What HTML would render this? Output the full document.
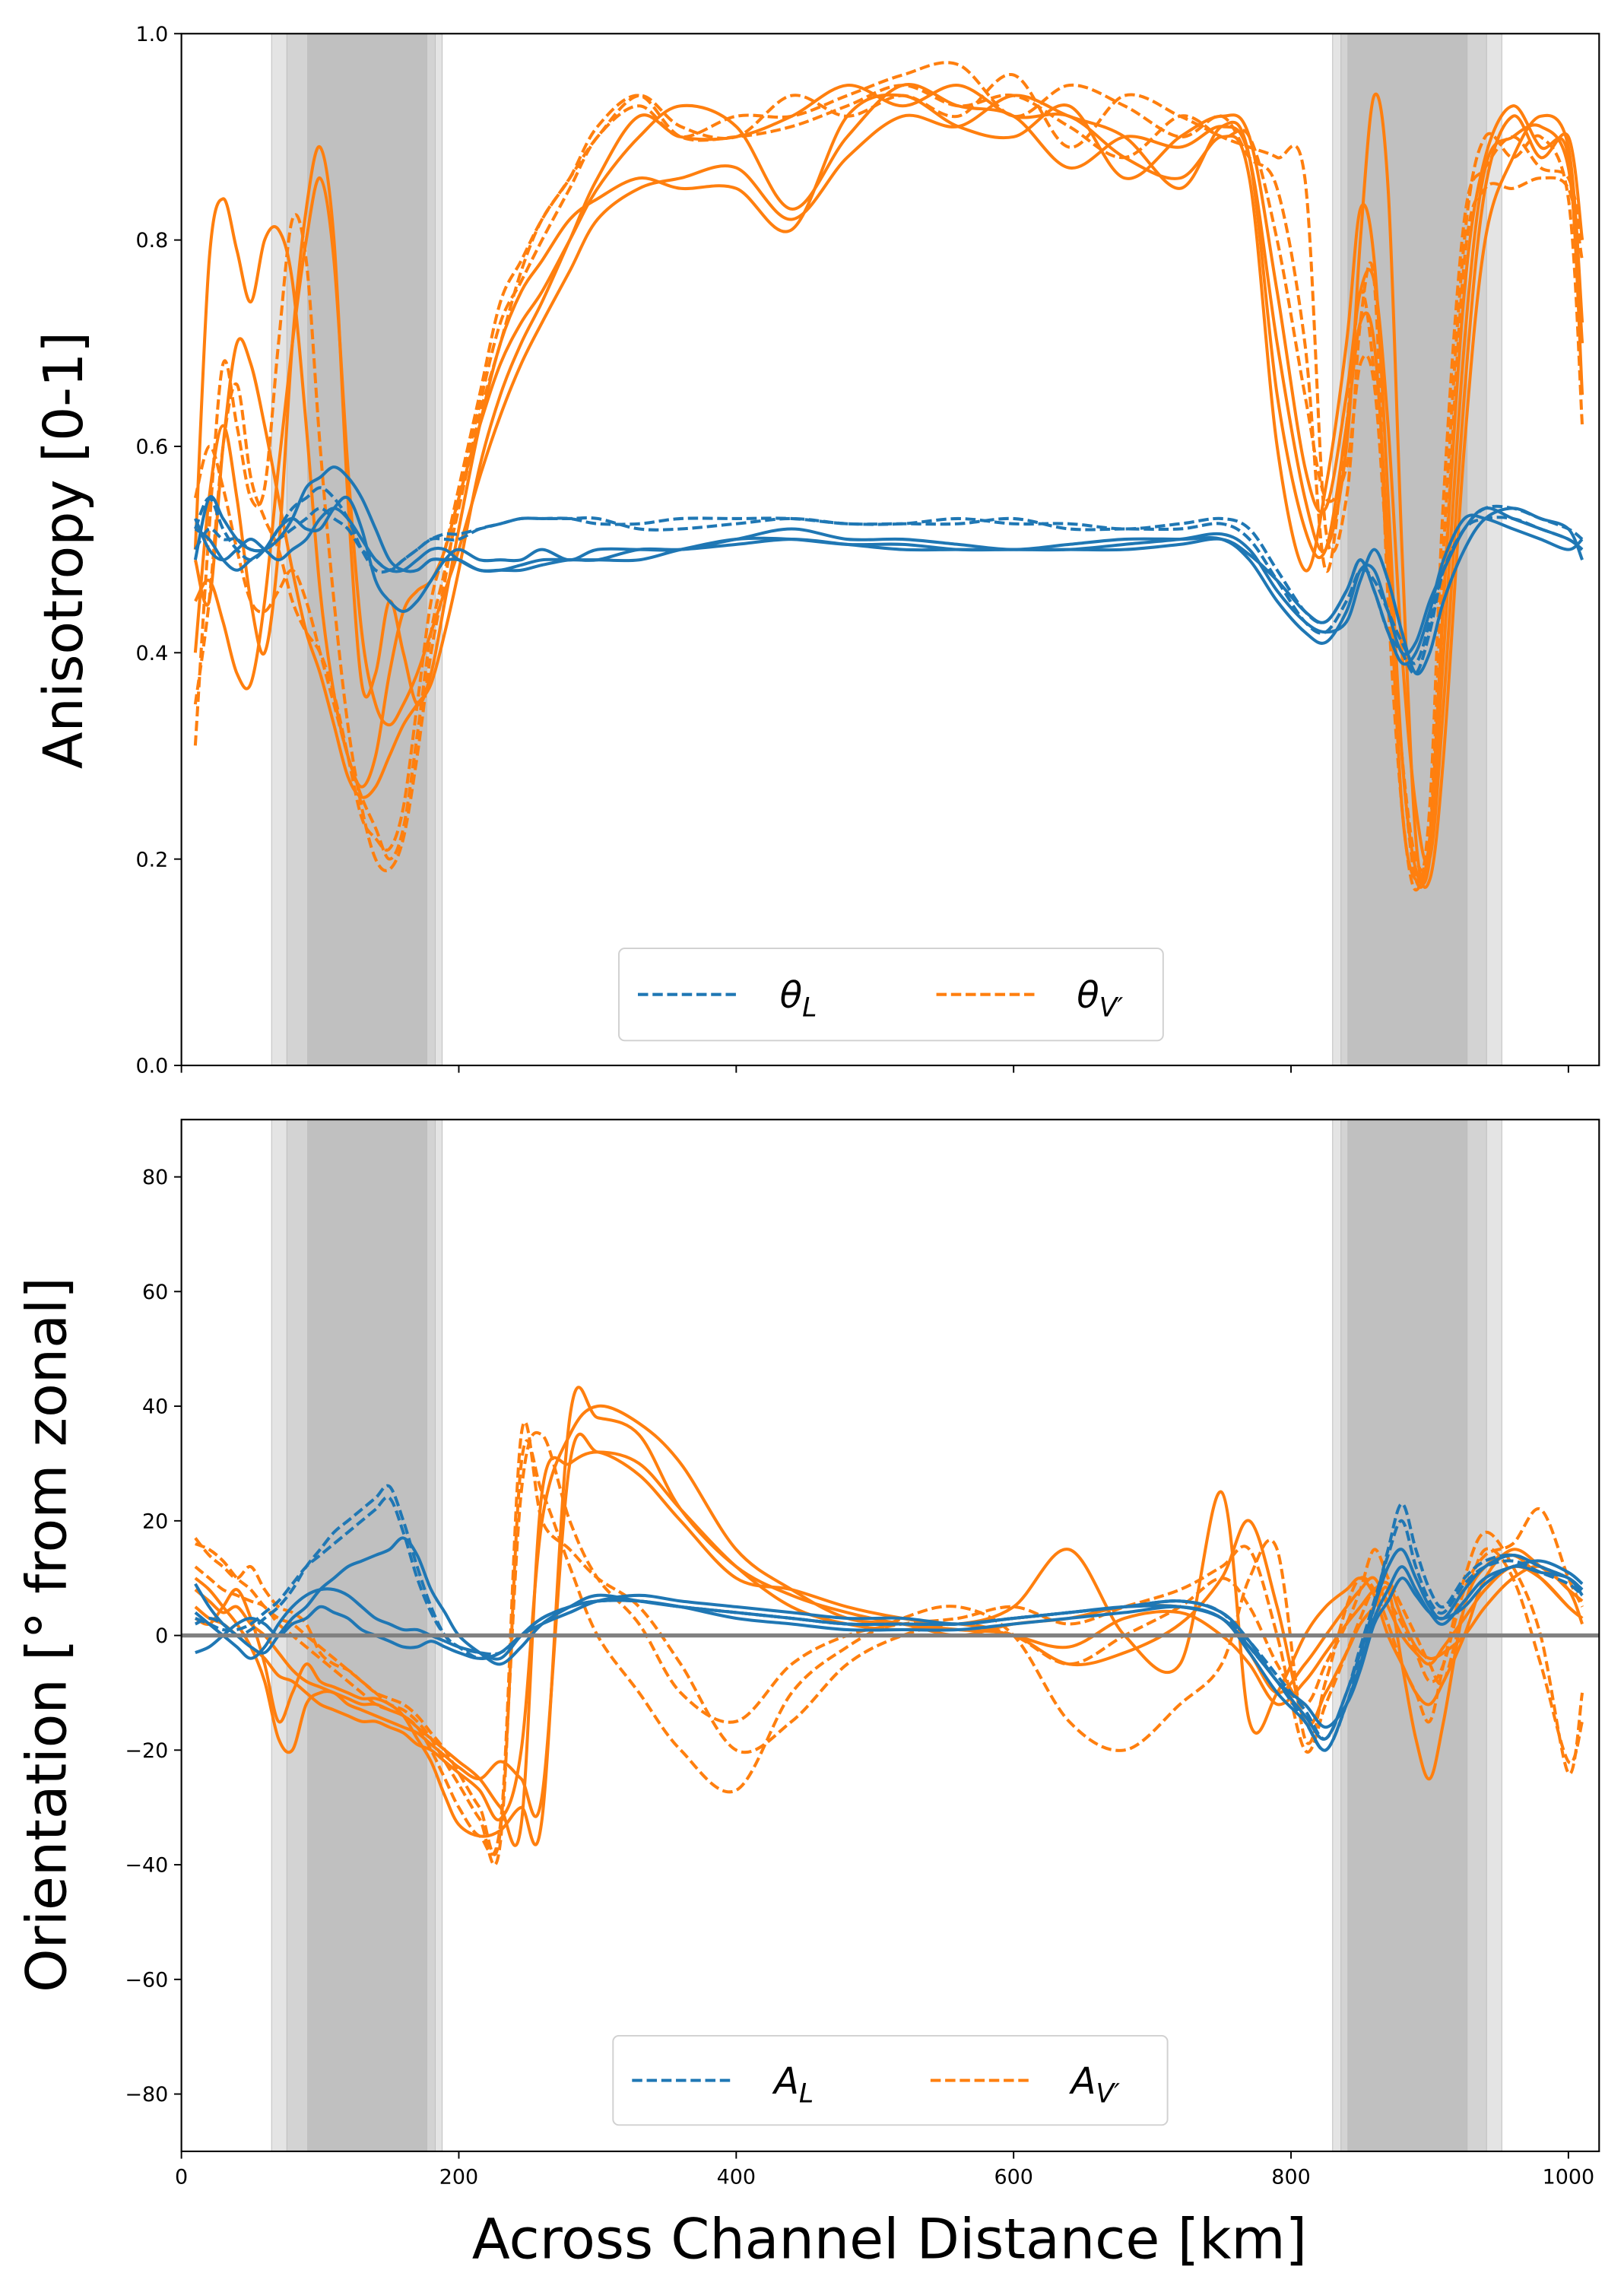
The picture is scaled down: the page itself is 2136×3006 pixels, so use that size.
<!DOCTYPE html>
<html><head><meta charset="utf-8"><style>html,body{margin:0;padding:0;background:#fff}svg{display:block}text{font-family:"DejaVu Sans","Liberation Sans",sans-serif}</style></head>
<body>
<svg id="chart" xmlns="http://www.w3.org/2000/svg" width="2136" height="3006" viewBox="0 0 1110 1562" preserveAspectRatio="none">
<defs>
<clipPath id="c1"><rect x="124" y="23" width="969" height="705"/></clipPath>
<clipPath id="c2"><rect x="124" y="765" width="969" height="705"/></clipPath>
</defs>
<g id="bands"></g>
<g id="lines1" clip-path="url(#c1)"></g>
<g id="lines2" clip-path="url(#c2)"></g>
<g id="axes"></g>
</svg>
<script>
const xs=[10,20,30,40,50,60,70,80,90,100,110,120,130,140,150,160,170,180,190,200,215,230,245,260,280,300,330,360,400,440,480,520,560,600,640,680,720,750,770,790,810,825,840,850,860,870,880,890,900,910,925,940,960,980,1000,1010];
// top panel: anisotropy
const thetaVSolid1=[0.50,0.78,0.84,0.79,0.74,0.80,0.81,0.76,0.62,0.46,0.36,0.30,0.27,0.30,0.38,0.44,0.46,0.47,0.50,0.55,0.62,0.68,0.72,0.75,0.80,0.85,0.90,0.93,0.91,0.83,0.90,0.95,0.93,0.92,0.87,0.90,0.89,0.91,0.88,0.70,0.55,0.50,0.60,0.80,0.94,0.85,0.50,0.22,0.18,0.30,0.60,0.80,0.88,0.92,0.89,0.72];
const thetaVSolid2=[0.40,0.55,0.62,0.55,0.45,0.40,0.50,0.70,0.83,0.89,0.80,0.55,0.37,0.38,0.45,0.40,0.35,0.38,0.45,0.52,0.62,0.70,0.75,0.78,0.82,0.84,0.86,0.85,0.85,0.81,0.92,0.94,0.91,0.90,0.93,0.86,0.90,0.92,0.90,0.75,0.58,0.54,0.65,0.75,0.76,0.62,0.40,0.25,0.20,0.35,0.65,0.85,0.92,0.88,0.90,0.80];
const thetaVSolid3=[0.49,0.45,0.60,0.70,0.68,0.62,0.55,0.48,0.42,0.38,0.33,0.28,0.26,0.27,0.30,0.33,0.35,0.37,0.42,0.48,0.58,0.65,0.70,0.74,0.80,0.86,0.92,0.90,0.90,0.92,0.95,0.93,0.95,0.92,0.92,0.88,0.86,0.90,0.86,0.60,0.48,0.56,0.70,0.83,0.78,0.55,0.30,0.19,0.20,0.40,0.70,0.87,0.90,0.91,0.87,0.70];
const thetaVSolid4=[0.45,0.47,0.43,0.38,0.37,0.45,0.58,0.70,0.80,0.86,0.78,0.58,0.42,0.35,0.33,0.35,0.38,0.42,0.46,0.50,0.57,0.63,0.68,0.72,0.77,0.82,0.85,0.86,0.87,0.82,0.88,0.92,0.91,0.94,0.92,0.90,0.85,0.91,0.88,0.65,0.52,0.50,0.62,0.72,0.70,0.50,0.25,0.18,0.22,0.45,0.75,0.88,0.93,0.89,0.88,0.65];
const thetaVDash1=[0.31,0.52,0.68,0.62,0.55,0.56,0.70,0.82,0.78,0.60,0.45,0.33,0.25,0.20,0.19,0.22,0.30,0.40,0.47,0.55,0.64,0.72,0.76,0.80,0.85,0.90,0.93,0.90,0.92,0.92,0.94,0.96,0.97,0.92,0.95,0.93,0.90,0.92,0.88,0.85,0.70,0.48,0.62,0.75,0.67,0.50,0.30,0.18,0.22,0.50,0.80,0.90,0.88,0.90,0.84,0.62];
const thetaVDash2=[0.35,0.45,0.60,0.66,0.57,0.53,0.50,0.45,0.42,0.40,0.36,0.30,0.24,0.22,0.21,0.25,0.35,0.45,0.50,0.56,0.65,0.74,0.78,0.82,0.86,0.90,0.94,0.91,0.90,0.94,0.92,0.94,0.92,0.96,0.89,0.94,0.92,0.90,0.89,0.88,0.86,0.52,0.55,0.72,0.76,0.45,0.25,0.17,0.25,0.55,0.82,0.87,0.90,0.87,0.86,0.80];
const thetaVDash3=[0.55,0.60,0.56,0.50,0.45,0.44,0.46,0.48,0.45,0.40,0.35,0.30,0.26,0.23,0.20,0.23,0.32,0.42,0.48,0.54,0.63,0.70,0.77,0.82,0.86,0.91,0.94,0.90,0.90,0.91,0.93,0.95,0.93,0.94,0.91,0.88,0.92,0.90,0.90,0.80,0.65,0.55,0.58,0.68,0.66,0.48,0.30,0.20,0.22,0.45,0.78,0.85,0.85,0.86,0.85,0.78];
const thetaLSolid1=[0.49,0.55,0.53,0.51,0.50,0.50,0.51,0.53,0.56,0.57,0.58,0.57,0.55,0.52,0.49,0.48,0.48,0.49,0.49,0.49,0.48,0.48,0.485,0.49,0.49,0.49,0.49,0.50,0.51,0.51,0.505,0.505,0.50,0.50,0.50,0.505,0.51,0.515,0.50,0.46,0.43,0.42,0.43,0.47,0.50,0.47,0.42,0.38,0.40,0.45,0.50,0.53,0.54,0.53,0.52,0.49];
const thetaLSolid2=[0.52,0.51,0.49,0.48,0.49,0.50,0.52,0.53,0.52,0.52,0.54,0.55,0.52,0.47,0.45,0.44,0.45,0.47,0.49,0.50,0.49,0.49,0.49,0.50,0.49,0.50,0.50,0.50,0.51,0.52,0.51,0.51,0.505,0.50,0.505,0.51,0.51,0.51,0.49,0.45,0.42,0.41,0.44,0.48,0.48,0.44,0.40,0.41,0.45,0.48,0.52,0.54,0.53,0.52,0.51,0.50];
const thetaLSolid3=[0.53,0.50,0.49,0.50,0.51,0.50,0.49,0.50,0.51,0.53,0.54,0.53,0.51,0.49,0.48,0.48,0.49,0.50,0.50,0.49,0.48,0.48,0.48,0.485,0.49,0.49,0.50,0.50,0.505,0.51,0.505,0.50,0.50,0.50,0.50,0.50,0.505,0.51,0.495,0.47,0.44,0.43,0.46,0.49,0.46,0.42,0.39,0.40,0.44,0.49,0.53,0.53,0.52,0.51,0.50,0.51];
const thetaLDash1=[0.52,0.55,0.52,0.50,0.49,0.50,0.52,0.54,0.55,0.56,0.55,0.53,0.50,0.48,0.48,0.49,0.50,0.51,0.51,0.51,0.52,0.525,0.53,0.53,0.53,0.525,0.525,0.53,0.53,0.53,0.525,0.525,0.53,0.525,0.525,0.52,0.525,0.53,0.52,0.48,0.44,0.43,0.46,0.49,0.46,0.42,0.40,0.38,0.42,0.48,0.52,0.54,0.54,0.53,0.52,0.51];
const thetaLDash2=[0.50,0.52,0.51,0.51,0.50,0.50,0.51,0.52,0.53,0.54,0.53,0.52,0.50,0.49,0.48,0.49,0.50,0.51,0.515,0.515,0.52,0.525,0.53,0.53,0.53,0.53,0.52,0.52,0.525,0.53,0.525,0.525,0.525,0.53,0.52,0.52,0.52,0.525,0.51,0.47,0.43,0.42,0.45,0.48,0.47,0.44,0.41,0.39,0.43,0.48,0.52,0.53,0.53,0.52,0.51,0.50];
// bottom panel: orientation (deg)
const aVSolid1=[5,3,2,0,-2,-4,-7,-8,-10,-12,-13,-14,-15,-15,-16,-17,-19,-20,-22,-24,-27,-32,-20,20,35,40,37,30,15,8,3,2,0,2,3,5,5,3,-3,-10,-5,0,5,8,10,5,0,-3,-5,-2,3,8,12,10,5,3];
const aVSolid2=[8,6,4,5,2,0,-3,-6,-8,-9,-10,-11,-12,-12,-13,-14,-16,-18,-20,-22,-25,-30,-33,25,30,32,30,22,12,5,2,1,2,0,-2,3,4,0,-5,-12,-8,-3,2,5,8,9,3,-2,-4,-3,0,5,10,12,8,6];
const aVSolid3=[3,2,5,8,3,-5,-15,-10,-5,-8,-9,-10,-11,-11,-12,-14,-18,-22,-28,-33,-35,-34,-30,-32,38,38,35,22,12,7,4,2,1,0,-5,-3,2,10,20,5,-15,-10,-3,2,5,8,-5,-18,-25,-15,5,12,14,10,5,3];
const aVSolid4=[10,8,5,2,-2,-8,-18,-20,-12,-10,-10,-12,-13,-14,-15,-16,-17,-19,-21,-23,-25,-22,-25,-28,30,32,28,20,10,8,5,3,2,5,15,0,-5,25,-15,-10,0,5,8,10,7,0,-5,-10,-12,-8,0,10,15,12,8,2];
const aVDash1=[17,14,12,10,12,8,5,4,2,-3,-5,-6,-8,-10,-11,-12,-14,-17,-20,-24,-30,-34,35,20,15,10,5,-5,-20,-15,-5,0,2,0,-5,0,5,10,5,-5,-12,-5,2,8,15,10,5,0,-5,-8,5,15,10,-5,-22,-15];
const aVDash2=[16,15,13,10,8,5,3,2,0,-2,-4,-6,-8,-10,-12,-13,-15,-18,-22,-26,-32,-36,30,25,12,0,-10,-20,-27,-10,-2,3,5,0,-15,-20,-12,-5,10,15,-18,-8,5,10,8,2,-5,-10,-15,-5,10,18,12,0,-24,-10];
const aVDash3=[12,10,8,7,6,5,2,0,-2,-4,-6,-8,-10,-12,-13,-14,-16,-20,-25,-30,-35,-33,25,35,20,10,2,-10,-15,-5,0,2,3,5,2,5,8,12,15,0,-20,-12,-3,3,8,6,2,-3,-8,-5,8,14,16,22,10,5];
const aLSolid1=[9,5,2,0,-2,-3,0,3,5,8,10,12,13,14,15,17,14,8,4,0,-3,-5,-2,2,5,7,6,5,4,3,2,2,2,3,4,5,5,3,-2,-8,-14,-18,-10,-3,5,12,15,10,5,3,8,12,14,12,10,8];
const aLSolid2=[4,2,0,-2,-4,-2,2,5,7,8,8,7,5,3,2,1,1,0,-1,-2,-3,-4,0,3,5,6,6,5,3,2,1,1,1,2,3,4,5,3,-3,-10,-15,-20,-12,-5,3,8,12,8,4,2,6,10,12,13,11,9];
const aLSolid3=[-3,-2,0,2,3,2,0,2,3,5,4,3,1,0,-1,-2,-2,-1,-2,-3,-4,-3,0,2,4,6,7,6,5,4,3,3,2,3,4,5,6,4,-1,-8,-12,-16,-12,-6,2,6,10,7,4,3,5,9,12,11,10,7];
const aLDash1=[2,3,2,0,1,3,5,8,12,15,18,20,22,24,26,20,12,5,0,-2,-4,-3,0,3,5,6,6,5,4,3,2,2,2,3,4,5,6,4,-2,-8,-15,-20,-12,-4,5,15,23,15,8,5,10,13,14,12,10,8];
const aLDash2=[3,2,1,1,2,4,6,9,12,14,16,18,20,22,24,18,10,4,0,-2,-3,-3,0,3,5,6,6,5,4,3,2,2,2,3,4,5,6,4,-1,-7,-13,-18,-10,-2,6,14,20,12,6,4,9,12,13,11,9,7];
const yTicks1=[0,0.2,0.4,0.6,0.8,1.0];
const yTicks2=[-80,-60,-40,-20,0,20,40,60,80];
const xTicks=[0,200,400,600,800,1000];
const bandsKm=[[65,188,'#e4e4e4'],[76,183,'#d3d3d3'],[91,177,'#c0c0c0'],[830,952,'#e4e4e4'],[836,941,'#d3d3d3'],[841,927,'#c0c0c0']];

const NS='http://www.w3.org/2000/svg';
const L=124,R=1093,T1=23,B1=728,T2=765,B2=1470;
const X=v=>L+v*0.948;
const Y1=v=>B1-v*705;
const Y2=v=>(T2+B2)/2-v*(705/180);
function mk(tag,attrs,parent){const e=document.createElementNS(NS,tag);for(const k in attrs)e.setAttribute(k,attrs[k]);parent.appendChild(e);return e;}
function pathD(vals,Y){const p=xs.map((x,i)=>[X(x),Y(vals[i])]);let d='M'+p[0][0].toFixed(2)+','+p[0][1].toFixed(2);
 for(let i=0;i<p.length-1;i++){const p0=p[i-1]||p[i],p1=p[i],p2=p[i+1],p3=p[i+2]||p2;
 const c1=[p1[0]+(p2[0]-p0[0])/6,p1[1]+(p2[1]-p0[1])/6],c2=[p2[0]-(p3[0]-p1[0])/6,p2[1]-(p3[1]-p1[1])/6];
 d+='C'+c1.map(n=>n.toFixed(2)).join(',')+' '+c2.map(n=>n.toFixed(2)).join(',')+' '+p2[0].toFixed(2)+','+p2[1].toFixed(2);}return d;}

const bandsG=document.getElementById('bands');
bandsKm.forEach(b=>{[[T1,B1],[T2,B2]].forEach(([t,bt])=>{
 const r=mk('rect',{x:X(b[0]),y:t,width:X(b[1])-X(b[0]),height:bt-t,fill:b[2],stroke:'#bdbdbd','stroke-width':0.5},bandsG);
 
 });});

const BLUE='#1f77b4',ORANGE='#ff7f0e';
function drawSeries(g,vals,Y,color,dashed,name){const p=mk('path',{d:pathD(vals,Y),fill:'none',stroke:color,'stroke-width':2.1,'stroke-linejoin':'round'},g);
 if(dashed)p.setAttribute('stroke-dasharray','7,3');
 
 }
const g1=document.getElementById('lines1'),g2=document.getElementById('lines2');
[thetaVSolid1,thetaVSolid2,thetaVSolid3,thetaVSolid4].forEach(v=>drawSeries(g1,v,Y1,ORANGE,false,'theta-v-line'));
[thetaVDash1,thetaVDash2,thetaVDash3].forEach(v=>drawSeries(g1,v,Y1,ORANGE,true,'theta-v-dashed-line'));
[thetaLSolid1,thetaLSolid2,thetaLSolid3].forEach(v=>drawSeries(g1,v,Y1,BLUE,false,'theta-l-line'));
[thetaLDash1,thetaLDash2].forEach(v=>drawSeries(g1,v,Y1,BLUE,true,'theta-l-dashed-line'));
[aVSolid1,aVSolid2,aVSolid3,aVSolid4].forEach(v=>drawSeries(g2,v,Y2,ORANGE,false,'a-v-line'));
[aVDash1,aVDash2,aVDash3].forEach(v=>drawSeries(g2,v,Y2,ORANGE,true,'a-v-dashed-line'));
[aLSolid1,aLSolid2,aLSolid3].forEach(v=>drawSeries(g2,v,Y2,BLUE,false,'a-l-line'));
[aLDash1,aLDash2].forEach(v=>drawSeries(g2,v,Y2,BLUE,true,'a-l-dashed-line'));
const zl=mk('line',{x1:L,x2:R,y1:Y2(0),y2:Y2(0),stroke:'#808080','stroke-width':2.8},g2);



const ax=document.getElementById('axes');
function frame(t,b,name){const r=mk('rect',{x:L,y:t,width:R-L,height:b-t,fill:'none',stroke:'#000','stroke-width':1.1},ax);
 
 }
frame(T1,B1,'anisotropy-axes');frame(T2,B2,'orientation-axes');
function txt(s,attrs,name){const t=mk('text',attrs,ax);t.textContent=s;
 
 return t;}
yTicks1.forEach(v=>{mk('line',{x1:L-5,x2:L,y1:Y1(v),y2:Y1(v),stroke:'#000','stroke-width':1},ax);
 txt(v.toFixed(1),{x:L-9,y:Y1(v)+5,'font-size':14,'text-anchor':'end'},'y-tick-label');});
yTicks2.forEach(v=>{mk('line',{x1:L-5,x2:L,y1:Y2(v),y2:Y2(v),stroke:'#000','stroke-width':1},ax);
 txt(v<0?'\u2212'+(-v):String(v),{x:L-9,y:Y2(v)+5,'font-size':14,'text-anchor':'end'},'y-tick-label');});
xTicks.forEach(v=>{mk('line',{x1:X(v),x2:X(v),y1:B1,y2:B1+5,stroke:'#000','stroke-width':1},ax);
 mk('line',{x1:X(v),x2:X(v),y1:B2,y2:B2+5,stroke:'#000','stroke-width':1},ax);
 txt(String(v),{x:X(v),y:B2+22,'font-size':14,'text-anchor':'middle'},'x-tick-label');});
txt('Anisotropy [0-1]',{x:0,y:0,'font-size':37,'text-anchor':'middle',transform:'translate(56,376) rotate(-90)'},'y-axis-title-anisotropy');
txt('Orientation [\u00b0 from zonal]',{x:0,y:0,'font-size':38,'text-anchor':'middle',transform:'translate(45,1117) rotate(-90)'},'y-axis-title-orientation');
txt('Across Channel Distance [km]',{x:608,y:1543,'font-size':38,'text-anchor':'middle'},'x-axis-title');

function legend(x,y,w,h,lab1,lab2,name){const g=mk('g',{},ax);
 mk('rect',{x:x,y:y,width:w,height:h,rx:4,fill:'#fff','fill-opacity':0.85,stroke:'#d0d0d0','stroke-width':1},g);
 const cy=y+h/2;
 mk('line',{x1:x+13,x2:x+83,y1:cy,y2:cy,stroke:BLUE,'stroke-width':2.1,'stroke-dasharray':'7,3'},g);
 mk('line',{x1:x+217,x2:x+287,y1:cy,y2:cy,stroke:ORANGE,'stroke-width':2.1,'stroke-dasharray':'7,3'},g);
 [[x+110,lab1,'L'],[x+313,lab2,'V\u2032']].forEach(([tx,main,sub])=>{const t=mk('text',{x:tx,y:cy+9,'font-size':25,'font-style':'italic'},g);
  
  t.appendChild(document.createTextNode(main));const s=mk('tspan',{dy:6,'font-size':18},t);s.textContent=sub;});}
legend(423,648,372,63,'\u03b8','\u03b8','anisotropy-legend');
legend(419,1391,379,61,'A','A','orientation-legend');
</script>
</body></html>
